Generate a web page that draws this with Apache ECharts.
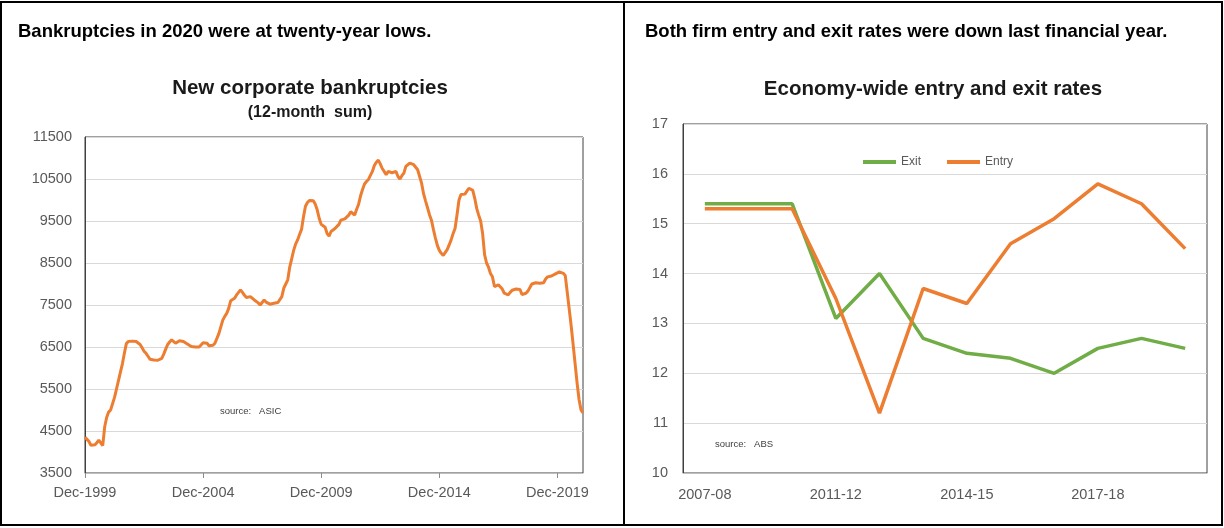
<!DOCTYPE html>
<html>
<head>
<meta charset="utf-8">
<title>Bankruptcies and firm entry/exit rates</title>
<script src="https://cdn.jsdelivr.net/npm/echarts@6/dist/echarts.min.js"></script>
<style>
  html, body { margin: 0; padding: 0; background: #ffffff; }
  #chart { width: 1224px; height: 528px; }
</style>
</head>
<body>
<div id="chart"></div>
<script>
// New corporate bankruptcies, 12-month sum, monthly from Dec-1999
const bankruptcyStart = { year: 1999, month: 11 };
const bankruptcies = [
  4350, 4300, 4250, 4160, 4150, 4170, 4220, 4280, 4300, 4150,
  4600, 4820, 4950, 5000, 5150, 5300, 5500, 5700, 5900, 6100,
  6350, 6580, 6630, 6640, 6640, 6630, 6630, 6620, 6560, 6480,
  6400, 6350, 6280, 6210, 6190, 6190, 6185, 6185, 6200, 6230,
  6330, 6450, 6560, 6620, 6670, 6660, 6590, 6620, 6650, 6620,
  6630, 6600, 6570, 6540, 6510, 6490, 6500, 6520, 6500, 6540,
  6600, 6630, 6590, 6530, 6490, 6540, 6590, 6620, 6820, 6980,
  7140, 7230, 7300, 7420, 7600, 7640, 7660, 7740, 7800, 7860,
  7800, 7730, 7680, 7670, 7700, 7680, 7620, 7590, 7550, 7500,
  7560, 7620, 7570, 7540, 7520, 7530, 7540, 7540, 7560, 7580,
  7700, 7900, 8000, 8100, 8400, 8600, 8800, 8950, 9050, 9180,
  9300, 9600, 9850, 9940, 9990, 10010, 9980, 9900, 9760, 9560,
  9420, 9380, 9350, 9200, 9140, 9250, 9280, 9320, 9350, 9420,
  9520, 9540, 9550, 9570, 9640, 9720, 9680, 9640, 9780, 9900,
  10100, 10250, 10380, 10440, 10490, 10510, 10680, 10820, 10900, 10950,
  10860, 10750, 10680, 10600, 10680, 10710, 10650, 10640, 10680, 10560,
  10500, 10580, 10640, 10800, 10840, 10880, 10860, 10840, 10800, 10720,
  10560, 10400, 10150, 9980, 9820, 9650, 9520, 9300, 9100, 8920,
  8800, 8730, 8680, 8650, 8820, 8930, 9050, 9200, 9320, 9650,
  10000, 10130, 10160, 10140, 10120, 10280, 10270, 10230, 10040, 9800,
  9640, 9500, 9200, 8700, 8500, 8400, 8250, 8170, 7940, 7960,
  7980, 7970, 7880, 7780, 7750, 7740, 7800, 7850, 7860, 7880,
  7880, 7870, 7750, 7740, 7780, 7830, 7860, 8000, 8020, 8030,
  8020, 8020, 8030, 8030, 8120, 8170, 8180, 8190, 8220, 8240,
  8260, 8290, 8270, 8255, 8200, 7800, 7400, 7000, 6550, 6100,
  5640, 5250, 5000, 4930
];

// Economy-wide firm entry and exit rates (per cent), by financial year
const financialYears = ['2007-08', '2009-10', '2010-11', '2011-12', '2012-13', '2013-14',
                        '2014-15', '2015-16', '2016-17', '2017-18', '2018-19', '2019-20'];
const exitRates  = [15.4, 15.4, 15.4, 13.1, 14.0, 12.7, 12.4, 12.3, 12.0, 12.5, 12.7, 12.5];
const entryRates = [15.3, 15.3, 15.3, 13.5, 11.2, 13.7, 13.4, 14.6, 15.1, 15.8, 15.4, 14.5];

// Month labels for the bankruptcy axis (Dec-1999, Jan-2000, ...)
const monthAbbr = ['Jan','Feb','Mar','Apr','May','Jun','Jul','Aug','Sep','Oct','Nov','Dec'];
const bankruptcyMonths = bankruptcies.map((_, i) => {
  const m = bankruptcyStart.month + i;
  return monthAbbr[m % 12] + '-' + (bankruptcyStart.year + Math.floor(m / 12));
});

const FONT = '"Liberation Sans", Arial, Helvetica, sans-serif';
const ORANGE = '#ED7D31';
const GREEN = '#70AD47';
const AXIS_TEXT = '#595959';
const GRID_LINE = '#d9d9d9';

const everyFiveYears = (i) => i % 60 === 0;

function textEl(x, y, text, font, align, color) {
  return {
    type: 'text', x: x, y: y, silent: true,
    style: {
      text: text, font: font, fill: color || '#000000',
      align: align, textAlign: align,
      verticalAlign: 'middle', textVerticalAlign: 'middle'
    }
  };
}

const chart = echarts.init(document.getElementById('chart'), null, { renderer: 'canvas' });

chart.setOption({
  animation: false,
  backgroundColor: '#ffffff',
  textStyle: { fontFamily: FONT },
  graphic: [
    // panel frames
    { type: 'rect', shape: { x: 1, y: 2, width: 1221, height: 523 },
      style: { fill: 'none', stroke: '#000000', lineWidth: 2 }, silent: true },
    { type: 'line', shape: { x1: 624, y1: 2, x2: 624, y2: 525 },
      style: { stroke: '#000000', lineWidth: 2 }, silent: true },
    // headlines
    textEl(18, 32, 'Bankruptcies in 2020 were at twenty-year lows.', 'bold 18.5px ' + FONT, 'left'),
    textEl(645, 32, 'Both firm entry and exit rates were down last financial year.', 'bold 18.5px ' + FONT, 'left'),
    // chart titles
    textEl(310, 88, 'New corporate bankruptcies', 'bold 20.5px ' + FONT, 'center', '#1a1a1a'),
    textEl(310, 113, '(12-month  sum)', 'bold 16px ' + FONT, 'center', '#1a1a1a'),
    textEl(933, 89, 'Economy-wide entry and exit rates', 'bold 20.5px ' + FONT, 'center', '#1a1a1a'),
    // sources
    textEl(220, 411, 'source:   ASIC', '9.5px ' + FONT, 'left', '#404040'),
    textEl(715, 444, 'source:   ABS', '9.5px ' + FONT, 'left', '#404040')
  ],
  legend: {
    data: ['Exit', 'Entry'],
    left: 863, top: 156,
    padding: 0,
    itemWidth: 33, itemHeight: 4, itemGap: 26,
    icon: 'rect',
    textStyle: { fontSize: 12, color: AXIS_TEXT, fontFamily: FONT }
  },
  grid: [
    { left: 85, top: 137, width: 498, height: 336,
      show: true, borderColor: '#404040', borderWidth: 1 },
    { left: 683, top: 124, width: 524, height: 349,
      show: true, borderColor: '#404040', borderWidth: 1 }
  ],
  xAxis: [
    {
      gridIndex: 0, type: 'category', data: bankruptcyMonths, boundaryGap: false,
      axisLine: { show: true, lineStyle: { color: '#bfbfbf', width: 1 } },
      axisTick: { show: true, interval: everyFiveYears, length: 5, lineStyle: { color: '#8c8c8c' } },
      axisLabel: { interval: everyFiveYears, color: AXIS_TEXT, fontSize: 14.5, fontFamily: FONT, margin: 12 },
      splitLine: { show: false }
    },
    {
      gridIndex: 1, type: 'category', data: financialYears, boundaryGap: true,
      axisLine: { show: true, lineStyle: { color: '#bfbfbf', width: 1 } },
      axisTick: { show: false },
      axisLabel: { interval: 2, color: AXIS_TEXT, fontSize: 14.5, fontFamily: FONT, margin: 14 },
      splitLine: { show: false }
    }
  ],
  yAxis: [
    {
      gridIndex: 0, type: 'value', min: 3500, max: 11500, interval: 500,
      axisLine: { show: true, lineStyle: { color: '#404040', width: 1 } },
      axisTick: { show: false },
      axisLabel: {
        color: AXIS_TEXT, fontSize: 14.5, fontFamily: FONT, margin: 13,
        formatter: (v) => ((v - 3500) % 1000 === 0 ? String(v) : '')
      },
      splitLine: { show: true, lineStyle: { color: [GRID_LINE, 'rgba(0,0,0,0)'], width: 1 } }
    },
    {
      gridIndex: 1, type: 'value', min: 10, max: 17, interval: 1,
      axisLine: { show: true, lineStyle: { color: '#404040', width: 1 } },
      axisTick: { show: false },
      axisLabel: { color: AXIS_TEXT, fontSize: 14.5, fontFamily: FONT, margin: 15 },
      splitLine: { show: true, lineStyle: { color: GRID_LINE, width: 1 } }
    }
  ],
  series: [
    {
      name: 'New corporate bankruptcies', type: 'line',
      xAxisIndex: 0, yAxisIndex: 0,
      data: bankruptcies, showSymbol: false, symbol: 'none',
      lineStyle: { color: ORANGE, width: 3 }, itemStyle: { color: ORANGE }
    },
    {
      name: 'Exit', type: 'line',
      xAxisIndex: 1, yAxisIndex: 1,
      data: exitRates, showSymbol: false, symbol: 'none',
      lineStyle: { color: GREEN, width: 3.5 }, itemStyle: { color: GREEN }
    },
    {
      name: 'Entry', type: 'line',
      xAxisIndex: 1, yAxisIndex: 1,
      data: entryRates, showSymbol: false, symbol: 'none',
      lineStyle: { color: ORANGE, width: 3.5 }, itemStyle: { color: ORANGE }
    }
  ]
});
</script>
</body>
</html>
